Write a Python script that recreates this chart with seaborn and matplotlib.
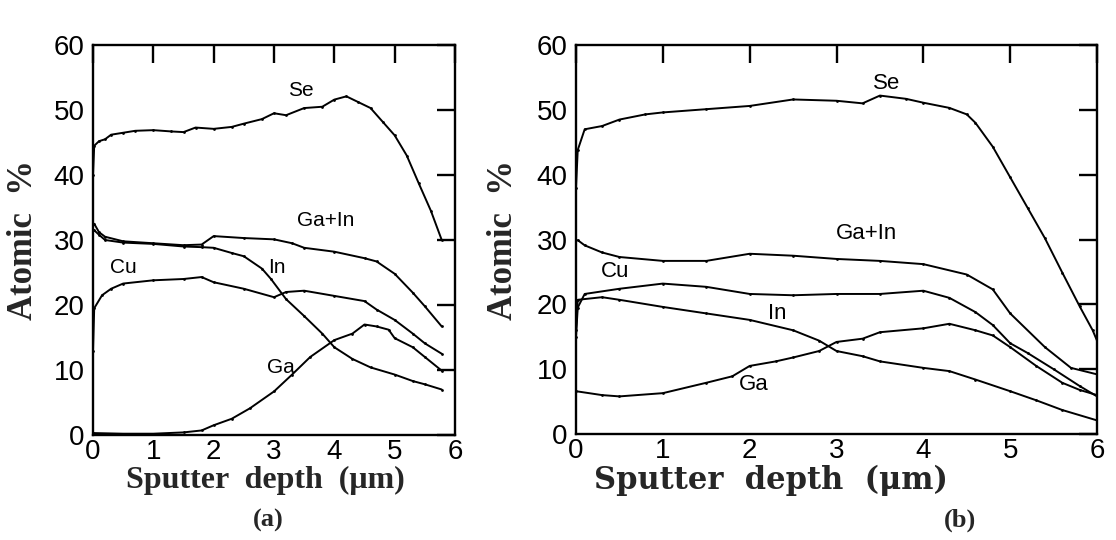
import matplotlib
matplotlib.use("Agg")
import matplotlib.pyplot as plt
import seaborn as sns
import pandas as pd

# ---------------- data ----------------
# Panel (a)
se_a_x = [0.0, 0.02, 0.1, 0.2, 0.3, 0.5, 0.7, 1.0, 1.3, 1.5, 1.7, 2.0, 2.3, 2.5, 2.8, 3.0, 3.2, 3.5, 3.8, 4.0, 4.2, 4.4, 4.6, 4.8, 5.0, 5.2, 5.4, 5.6, 5.78]
se_a_y = [40.0, 44.5, 45.2, 45.5, 46.2, 46.5, 46.8, 46.9, 46.7, 46.6, 47.3, 47.1, 47.4, 47.9, 48.6, 49.5, 49.2, 50.3, 50.5, 51.6, 52.1, 51.2, 50.3, 48.2, 46.1, 43.0, 38.7, 34.5, 30.0]
gain_a_x = [0.02, 0.1, 0.2, 0.5, 1.0, 1.5, 1.8, 2.0, 2.5, 3.0, 3.3, 3.5, 4.0, 4.5, 4.7, 5.0, 5.3, 5.5, 5.78]
gain_a_y = [32.5, 31.2, 30.5, 29.8, 29.5, 29.2, 29.3, 30.6, 30.3, 30.1, 29.5, 28.8, 28.2, 27.2, 26.7, 24.8, 21.9, 19.8, 16.7]
in_a_x = [0.02, 0.1, 0.2, 0.5, 1.0, 1.5, 1.8, 2.0, 2.3, 2.5, 2.8, 2.95, 3.2, 3.5, 3.8, 4.0, 4.3, 4.6, 5.0, 5.3, 5.5, 5.78]
in_a_y = [31.5, 30.8, 30.0, 29.6, 29.4, 29.0, 28.9, 28.8, 28.0, 27.5, 25.6, 24.0, 20.9, 18.3, 15.6, 13.5, 11.7, 10.4, 9.3, 8.3, 7.8, 7.0]
cu_a_x = [0.0, 0.02, 0.15, 0.3, 0.5, 1.0, 1.5, 1.8, 2.0, 2.5, 3.0, 3.2, 3.5, 4.0, 4.5, 4.7, 5.0, 5.3, 5.5, 5.78]
cu_a_y = [13.0, 19.5, 21.5, 22.5, 23.3, 23.8, 24.0, 24.3, 23.5, 22.5, 21.2, 22.0, 22.2, 21.4, 20.6, 19.3, 17.7, 15.6, 14.1, 12.5]
ga_a_x = [0.0, 0.5, 1.0, 1.5, 1.8, 2.0, 2.3, 2.6, 3.0, 3.3, 3.6, 4.0, 4.3, 4.5, 4.7, 4.9, 5.0, 5.3, 5.5, 5.78]
ga_a_y = [0.3, 0.2, 0.2, 0.4, 0.7, 1.5, 2.5, 4.1, 6.7, 9.3, 12.0, 14.6, 15.6, 17.0, 16.7, 16.2, 14.9, 13.5, 12.0, 9.9]

# Panel (b)
se_b_x = [0.0, 0.02, 0.1, 0.3, 0.5, 0.8, 1.0, 1.5, 2.0, 2.5, 3.0, 3.3, 3.5, 3.8, 4.0, 4.3, 4.5, 4.6, 4.8, 5.0, 5.2, 5.4, 5.6, 5.8, 5.95, 6.0]
se_b_y = [38.0, 43.8, 47.0, 47.5, 48.5, 49.3, 49.6, 50.1, 50.6, 51.6, 51.4, 51.0, 52.2, 51.7, 51.1, 50.3, 49.3, 48.0, 44.3, 39.6, 34.9, 30.2, 24.9, 19.7, 16.0, 14.4]
gain_b_x = [0.02, 0.1, 0.3, 0.5, 1.0, 1.5, 2.0, 2.5, 3.0, 3.5, 4.0, 4.5, 4.8, 5.0, 5.4, 5.7, 6.0]
gain_b_y = [29.9, 29.1, 28.0, 27.3, 26.7, 26.7, 27.8, 27.5, 27.0, 26.7, 26.2, 24.6, 22.3, 18.6, 13.4, 10.2, 9.2]
cu_b_x = [0.0, 0.02, 0.1, 0.5, 1.0, 1.5, 2.0, 2.5, 3.0, 3.5, 4.0, 4.3, 4.6, 4.8, 5.0, 5.2, 5.5, 5.8, 6.0]
cu_b_y = [15.0, 19.5, 21.6, 22.4, 23.2, 22.7, 21.6, 21.4, 21.6, 21.6, 22.1, 21.0, 18.8, 16.8, 14.0, 12.5, 10.0, 7.4, 5.8]
ga_b_x = [0.0, 0.3, 0.5, 1.0, 1.5, 1.8, 2.0, 2.3, 2.5, 2.8, 3.0, 3.3, 3.5, 4.0, 4.3, 4.6, 4.8, 5.0, 5.3, 5.6, 5.8, 6.0]
ga_b_y = [6.6, 6.0, 5.8, 6.3, 7.9, 8.9, 10.5, 11.2, 11.8, 12.8, 14.2, 14.7, 15.7, 16.3, 17.0, 16.0, 15.2, 13.4, 10.5, 7.9, 6.8, 6.0]
in_b_x = [0.0, 0.02, 0.3, 0.5, 1.0, 1.5, 2.0, 2.5, 2.8, 3.0, 3.3, 3.5, 4.0, 4.3, 4.6, 5.0, 5.3, 5.6, 6.0]
in_b_y = [16.0, 20.7, 21.1, 20.7, 19.6, 18.6, 17.6, 16.0, 14.4, 12.8, 12.0, 11.2, 10.2, 9.7, 8.4, 6.6, 5.2, 3.7, 2.1]

x_ticks = [0, 1, 2, 3, 4, 5, 6]
y_ticks = [0, 10, 20, 30, 40, 50, 60]
x_label = "Sputter  depth  (\u03bcm)"
y_label = "Atomic  %"
panel_labels = ["(a)", "(b)"]

labels_a = [("Se", 3.45, 53.0), ("Ga+In", 3.85, 33.0), ("In", 3.05, 25.8), ("Cu", 0.5, 25.8), ("Ga", 3.12, 10.4)]
labels_b = [("Se", 3.58, 54.0), ("Ga+In", 3.35, 31.0), ("Cu", 0.45, 25.0), ("In", 2.32, 18.6), ("Ga", 2.05, 7.6)]

panels = [
    [(se_a_x, se_a_y), (gain_a_x, gain_a_y), (in_a_x, in_a_y), (cu_a_x, cu_a_y), (ga_a_x, ga_a_y)],
    [(se_b_x, se_b_y), (gain_b_x, gain_b_y), (cu_b_x, cu_b_y), (ga_b_x, ga_b_y), (in_b_x, in_b_y)],
]

# ---------------- drawing ----------------
sns.set_theme(style="white")
plt.rcParams["font.family"] = ["Liberation Sans", "DejaVu Sans"]

W, H = 1116, 540
fig = plt.figure(figsize=(W / 100, H / 100), dpi=100)
ax_a = fig.add_axes([93 / W, 105 / H, 362 / W, 390 / H])
ax_b = fig.add_axes([576 / W, 106 / H, 521 / W, 389 / H])

serif_bold = dict(family=["Liberation Serif", "DejaVu Serif"], weight="bold")
xlab_fonts = [["Liberation Serif", "DejaVu Serif"], ["DejaVu Serif", "Liberation Serif"]]
xlab_sizes = [23, 22]
xlab_pos = [0.475, 0.375]
ylab_pos = [-0.146, -0.107]
ann_sizes = [15, 16]

for i, (ax, series, labs, plab) in enumerate(zip([ax_a, ax_b], panels, [labels_a, labels_b], panel_labels)):
    for xs, ys in series:
        df = pd.DataFrame({"x": xs, "y": ys})
        sns.lineplot(data=df, x="x", y="y", ax=ax, color="black", linewidth=1.4,
                     marker=".", markersize=4, markeredgewidth=0, sort=False)
    for txt, tx, ty in labs:
        ax.text(tx, ty, txt, fontsize=ann_sizes[i], color="black", ha="center", va="center")
    ax.set_xlim(0, 6)
    ax.set_ylim(0, 60)
    ax.set_xticks(x_ticks)
    ax.set_yticks(y_ticks)
    ax.tick_params(direction="in", top=True, right=True, length=13, width=1.7,
                   labelsize=20, colors="black")
    ax.tick_params(axis="x", pad=3)
    ax.tick_params(axis="y", pad=6)
    for sp in ax.spines.values():
        sp.set_visible(True)
        sp.set_color("black")
        sp.set_linewidth(1.7)
    ax.set_xlabel(x_label, fontsize=xlab_sizes[i], family=xlab_fonts[i], weight="bold")
    ax.xaxis.set_label_coords(xlab_pos[i], -0.078)
    ax.set_ylabel(y_label, fontsize=25, **serif_bold)
    ax.yaxis.set_label_coords(ylab_pos[i], 0.5)

fig.text(268 / W, 1 - 520 / H, panel_labels[0], ha="center", va="center", fontsize=19, **serif_bold)
fig.text(960 / W, 1 - 520 / H, panel_labels[1], ha="center", va="center", fontsize=19, **serif_bold)

fig.savefig("out.png", dpi=100, facecolor="white")
